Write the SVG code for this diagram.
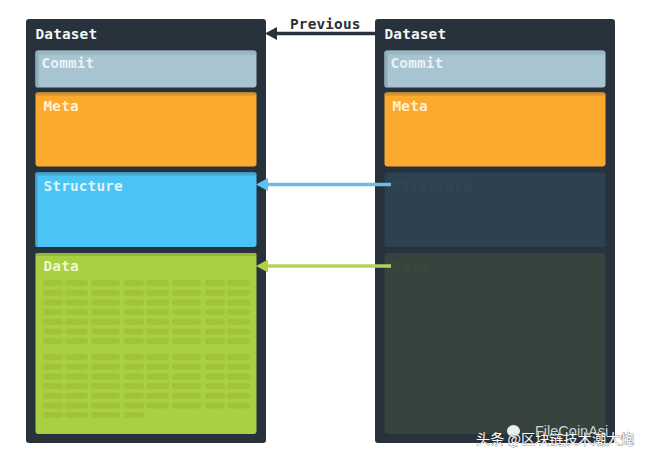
<svg xmlns="http://www.w3.org/2000/svg" width="646" height="461" viewBox="0 0 646 461">
<style>
.panel{fill:#28323d}
.t{font-family:"DejaVu Sans Mono","Liberation Mono",monospace;font-weight:700;font-size:14.4px;letter-spacing:.15px}
.w{fill:#f2f7f8}
.wm{font-family:"Noto Sans CJK SC","Noto Sans",sans-serif;font-size:14.200px;fill:#fff;stroke:#333;stroke-width:.5px;paint-order:stroke}
.conn{fill:none;stroke-width:3.5}
.c rect{fill:#9fc43a;rx:3px;height:6px}
</style>
<defs>
<g id="cells" class="c">
<rect x="43" width="20" y="0"/><rect x="65" width="23" y="0"/><rect x="91" width="29" y="0"/><rect x="124" width="20" y="0"/><rect x="146" width="23" y="0"/><rect x="172" width="29" y="0"/><rect x="205" width="20" y="0"/><rect x="227" width="23" y="0"/>
</g>
</defs>
<rect width="646" height="461" fill="#fff"/>

<g id="dataset-left">
<rect class="panel" x="26" y="19" width="240" height="424" rx="3"/>
<text class="t w" x="35.500" y="39">Dataset</text>
</g>
<g id="commit-left">
<rect x="35.500" y="50.500" width="221" height="37" rx="3" fill="#a7c4d0"/>
<path d="M38.500 50.500h215a3 3 0 0 1 3 3v1h-221v-1a3 3 0 0 1 3-3z" fill="#8fadb9" opacity=".6"/>
<rect x="35.500" y="50.500" width="3" height="37" rx="1.500" fill="#8fadb9"/>
<text class="t" x="41.500" y="68" fill="#e9f3f6">Commit</text>
</g>
<g id="meta-left">
<rect x="35.500" y="92.500" width="221" height="74" rx="3" fill="#fbaa2e"/>
<rect x="35.500" y="92.500" width="221" height="3" rx="1.500" fill="#d6922f"/>
<text class="t" x="43.500" y="111" fill="#fff1d2">Meta</text>
</g>
<g id="structure-left">
<rect x="35.500" y="172.500" width="221" height="74.500" rx="3" fill="#4cc3f5"/>
<rect x="35.500" y="172.500" width="221" height="3" rx="1.500" fill="#43a5d0"/>
<rect x="35.500" y="172.500" width="2" height="74.500" rx="1" fill="#43a5d0"/>
<text class="t" x="43.500" y="190.500" fill="#dff5fc">Structure</text>
</g>
<g id="data-left">
<rect x="35.500" y="253" width="221" height="181" rx="3" fill="#a9cf42"/>
<rect x="35.500" y="253" width="221" height="3" rx="1.500" fill="#94b63b"/>
<text class="t" x="43.500" y="271" fill="#eef9cc">Data</text>
<use href="#cells" y="280"/><use href="#cells" y="289.700"/><use href="#cells" y="299.400"/><use href="#cells" y="309"/><use href="#cells" y="318.700"/><use href="#cells" y="328.400"/><use href="#cells" y="338"/>
<use href="#cells" y="354"/><use href="#cells" y="363.700"/><use href="#cells" y="373.400"/><use href="#cells" y="383"/><use href="#cells" y="392.700"/><use href="#cells" y="402.400"/>
<g class="c"><rect x="43" width="20" y="412"/><rect x="65" width="23" y="412"/><rect x="91" width="29" y="412"/><rect x="124" width="20" y="412"/></g>
</g>

<g id="dataset-right">
<rect class="panel" x="375" y="19" width="240" height="424" rx="3"/>
<text class="t w" x="384.500" y="39">Dataset</text>
</g>
<g id="commit-right">
<rect x="384.500" y="50.500" width="221" height="37" rx="3" fill="#a7c4d0"/>
<path d="M387.500 50.500h215a3 3 0 0 1 3 3v1h-221v-1a3 3 0 0 1 3-3z" fill="#8fadb9" opacity=".6"/>
<rect x="384.500" y="50.500" width="3" height="37" rx="1.500" fill="#8fadb9"/>
<text class="t" x="390.500" y="68" fill="#e9f3f6">Commit</text>
</g>
<g id="meta-right">
<rect x="384.500" y="92.500" width="221" height="74" rx="3" fill="#fbaa2e"/>
<rect x="384.500" y="92.500" width="221" height="3" rx="1.500" fill="#d6922f"/>
<text class="t" x="392.500" y="111" fill="#fff1d2">Meta</text>
</g>
<g id="structure-right">
<rect x="384.500" y="172.500" width="221" height="74.500" rx="3" fill="#2d4150"/>
<text class="t" x="392.500" y="190.500" fill="#314656">Structure</text>
</g>
<g id="data-right">
<rect x="384.500" y="253" width="221" height="181" rx="3" fill="#36433c"/>
<text class="t" x="392.500" y="271" fill="#39473f">Data</text>
</g>

<g id="connectors">
<text class="t" x="290" y="29" fill="#2b2f36">Previous</text>
<path class="conn" stroke="#28323d" d="M375 33.500H275"/>
<path d="M265 33.500l12-6.500v13z" fill="#28323d"/>
<path class="conn" stroke="#6cbde6" d="M391 184.500H268"/>
<path d="M256 184.500l12-6.500v13z" fill="#5cc1f0"/>
<path class="conn" stroke="#b3d25a" d="M391 266H268"/>
<path d="M256 266l12-6.500v13z" fill="#aed044"/>
</g>

<g id="watermark">
<ellipse cx="513.500" cy="431" rx="6.500" ry="6" fill="#eef0f0"/>
<text x="535" y="436" font-family="Liberation Sans,sans-serif" font-size="14.500" fill="#cfd4d4">FileCoinAsi</text>
<text class="wm" x="476" y="444">头条 @区块链技术潮大炮</text>
</g>
</svg>
